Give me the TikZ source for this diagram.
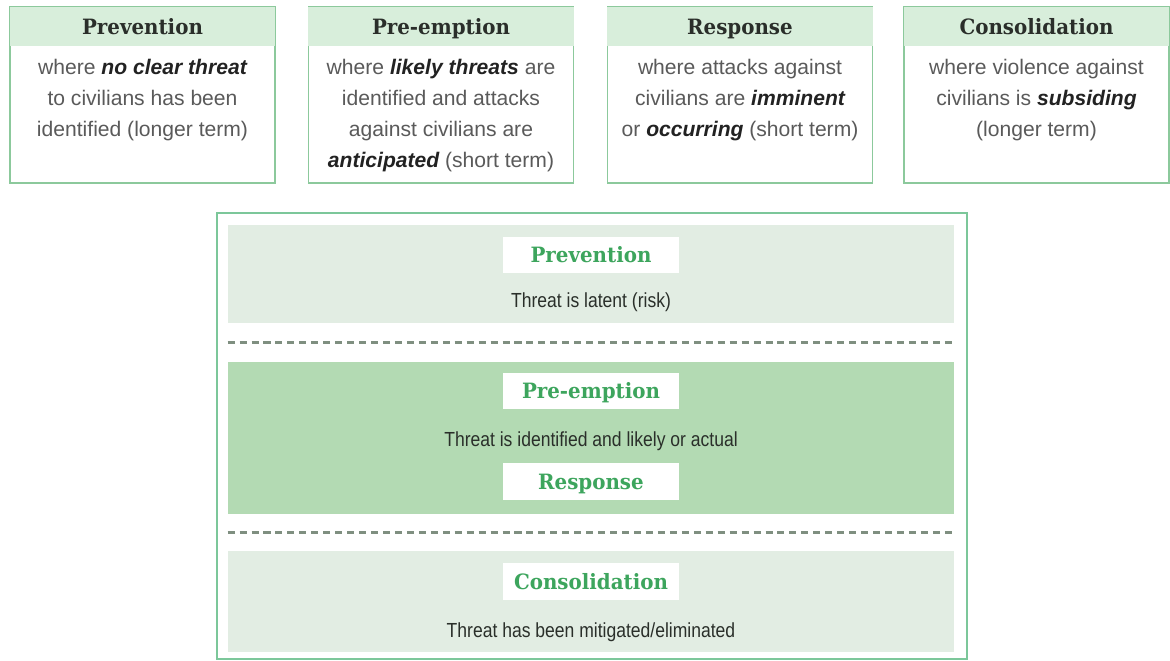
\documentclass[tikz,border=0pt]{standalone}
\usepackage{fontspec}
\setmainfont{Liberation Sans}
\newfontfamily\slabfont[FakeStretch=0.94]{DejaVu Serif}
\newfontfamily\narrowfont[FakeStretch=0.86]{Liberation Sans}
\usepackage{xcolor}
\usepackage{tikz}
\usetikzlibrary{calc, positioning}

\definecolor{boxline}{HTML}{8CC99C}
\definecolor{headfill}{HTML}{D8EEDB}
\definecolor{titletext}{HTML}{2A2E2A}
\definecolor{bodygray}{HTML}{5A5A5A}
\definecolor{emphtext}{HTML}{222222}
\definecolor{panelline}{HTML}{7CC79A}
\definecolor{lightband}{HTML}{E2EDE3}
\definecolor{midband}{HTML}{B3DAB3}
\definecolor{greentitle}{HTML}{3DA55D}
\definecolor{dashgray}{HTML}{7F8F80}
\definecolor{bandink}{HTML}{2A2F2A}

\newcommand{\keyword}[1]{{\bfseries\itshape\color{emphtext}#1}}

\tikzset{
    topbox/.style={draw=boxline, line width=1.2pt, fill=white,
        minimum width=6.625cm, minimum height=4.4cm, inner sep=0pt},
    toptitle/.style={font=\slabfont\bfseries\fontsize{15}{17}\selectfont,
        text=titletext, inner sep=0pt, text height=11pt, text depth=0pt},
    bodytext/.style={font=\fontsize{15}{22}\selectfont, text=bodygray,
        align=center, inner sep=0pt},
    band/.style={minimum width=18.15cm, inner sep=0pt},
    labelbox/.style={fill=white, minimum width=4.375cm, minimum height=0.9cm,
        inner sep=0pt, text height=11pt, text depth=0pt,
        font=\slabfont\bfseries\fontsize{15}{17}\selectfont, text=greentitle},
    bandtext/.style={font=\narrowfont\fontsize{14.5}{17}\selectfont,
        text=bandink, inner sep=0pt, text height=10.4pt, text depth=0pt},
    sepline/.style={dashgray, line width=1.8pt, dash pattern=on 5pt off 3.5pt},
}

\begin{document}
\begin{tikzpicture}[x=0.025cm, y=-0.025cm]
    \useasboundingbox (0,0) rectangle (1170,661);

    % 1. The four boxes on top
    \foreach \i/\cx/\head/\body in {
        1/142.5/Prevention/{where \keyword{no clear threat}\\to civilians has been\\identified (longer term)},
        2/441/Pre-emption/{where \keyword{likely threats} are\\identified and attacks\\against civilians are\\\keyword{anticipated} (short term)},
        3/740/Response/{where attacks against\\civilians are \keyword{imminent}\\or \keyword{occurring} (short term)},
        4/1036.5/Consolidation/{where violence against\\civilians is \keyword{subsiding}\\(longer term)}} {
        \node[topbox] (top\i) at (\cx,95) {};
        \fill[headfill] ([shift={(0.6pt,-0.6pt)}]top\i.north west)
            rectangle ([shift={(-0.6pt,-1cm)}]top\i.north east);
        \node[toptitle] (head\i) at (\cx,27) {\head};
        \node[bodytext, anchor=north] (body\i) at ([yshift=-1.32cm]top\i.north) {\body};
    }

    % 2. Frame of the lower panel
    \draw[panelline, line width=1.4pt] (217,213) rectangle (967,659);

    % 3. The three bands
    \node[band, fill=lightband, minimum height=2.45cm] (band1) at (591,274) {};
    \node[band, fill=midband, minimum height=3.8cm] (band2) at (591,438) {};
    \node[band, fill=lightband, minimum height=2.525cm] (band3) at (591,601.5) {};

    % 4. Dashed separators
    \draw[sepline] ($(band1.south west)!0.5!(band2.north west)$)
        -- ($(band1.south east)!0.5!(band2.north east)$);
    \draw[sepline] ($(band2.south west)!0.5!(band3.north west)$)
        -- ($(band2.south east)!0.5!(band3.north east)$);

    % 5. Labels and texts in the bands
    \node[labelbox] (lbl1) at (591,255) {Prevention};
    \node[bandtext] (txt1) at (591,300) {Threat is latent (risk)};
    \node[labelbox] (lbl2) at (591,391) {Pre-emption};
    \node[bandtext] (txt2) at (591,439) {Threat is identified and likely or actual};
    \node[labelbox] (lbl3) at (591,481.5) {Response};
    \node[labelbox] (lbl4) at (591,581.5) {Consolidation};
    \node[bandtext] (txt4) at (591,630) {Threat has been mitigated/eliminated};
\end{tikzpicture}
\end{document}
